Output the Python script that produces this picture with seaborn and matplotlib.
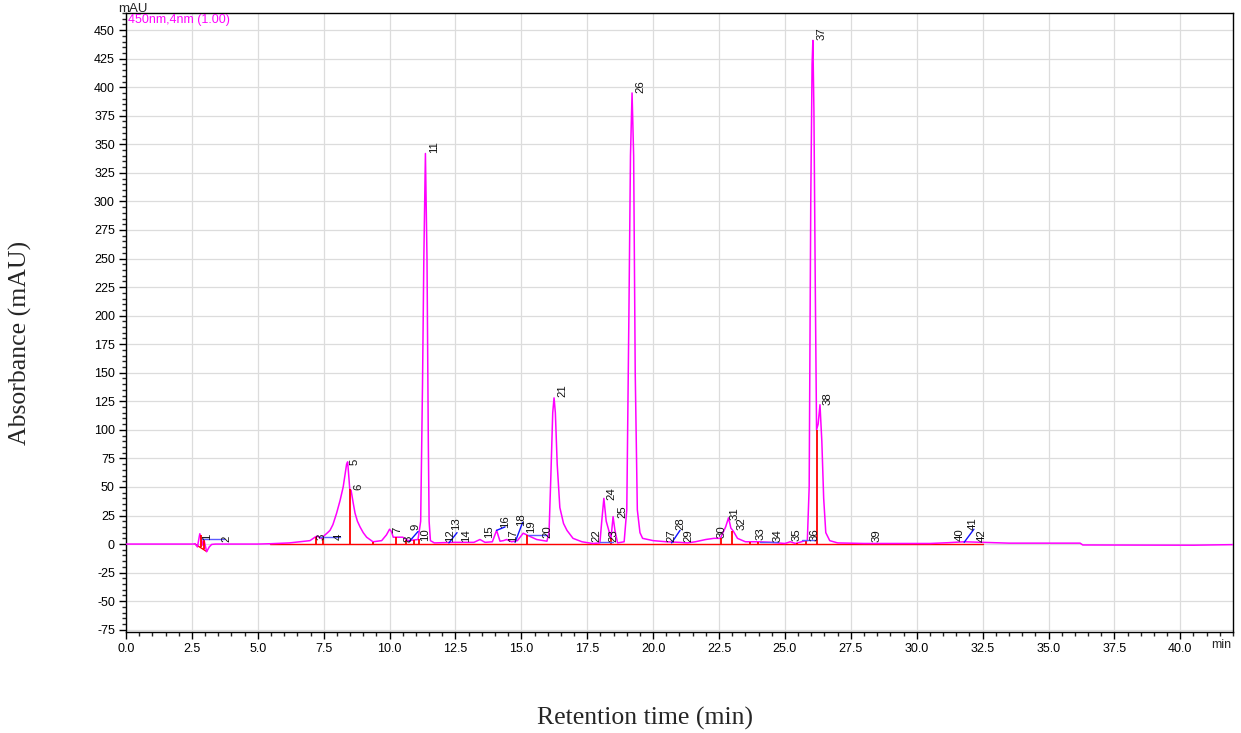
import numpy as np
import pandas as pd
import matplotlib
matplotlib.use("Agg")
import matplotlib.pyplot as plt
import seaborn as sns
from matplotlib.ticker import MultipleLocator

# ---- chromatogram trace (retention time in min, signal in mAU) ----
trace_t = [0.0, 2.55, 2.62, 2.71, 2.80, 2.86, 2.91, 2.96, 3.06, 3.16, 3.25, 3.4,
           5.0, 5.5, 6.2, 6.98, 7.17, 7.25, 7.35, 7.42, 7.55, 7.65, 7.74, 7.85,
           7.99, 8.12, 8.24, 8.32, 8.37, 8.41, 8.45, 8.49, 8.54, 8.62, 8.69, 8.78,
           8.88, 9.0, 9.13, 9.37, 9.7, 9.88, 10.0, 10.07, 10.14, 10.27, 10.5, 10.7,
           11.08, 11.18, 11.25, 11.3, 11.36, 11.42, 11.47, 11.5, 11.55, 11.7, 12.4,
           13.2, 13.43, 13.62, 13.9, 14.06, 14.19, 14.32, 14.44, 14.63, 14.85,
           15.07, 15.25, 15.58, 15.97, 16.05, 16.12, 16.19, 16.24, 16.29, 16.36,
           16.46, 16.6, 16.73, 16.96, 17.3, 17.7, 17.98, 18.05, 18.13, 18.22, 18.4,
           18.48, 18.55, 18.65, 18.9, 19.0, 19.08, 19.14, 19.2, 19.26, 19.32, 19.4,
           19.5, 19.6, 20.0, 20.5, 21.0, 21.3, 21.6, 22.0, 22.3, 22.55, 22.75,
           22.86, 22.95, 23.05, 23.2, 23.5, 24.0, 24.5, 25.0, 25.2, 25.4, 25.7,
           25.85, 25.92, 25.98, 26.03, 26.06, 26.1, 26.15, 26.2, 26.26, 26.33,
           26.4, 26.47, 26.55, 26.7, 27.0, 28.0, 30.5, 31.2, 31.8, 32.5, 33.5,
           36.2, 36.3, 38.0, 40.5, 42.0]
trace_mau = [0, 0, 0.3, -2.5, 9, 5, -1, 3.5, -6.7, -2.5, -0.3, 0,
             0, 0.3, 1, 3, 6, 7, 5.5, 5, 8, 10, 12, 17,
             27, 38, 50, 62, 70, 72, 60, 48, 47, 36, 27, 20,
             15, 10, 6, 2, 3, 8, 13, 11, 6, 6, 6, 3,
             4, 20, 140, 250, 342, 250, 90, 20, 3, 1, 1.5,
             1.5, 4, 1.5, 2, 12, 2.5, 3, 4, 2, 3,
             9.5, 7.5, 4, 2.5, 10, 60, 115, 128, 115, 70,
             32, 18, 12, 5, 2, 0.5, 1, 20, 40, 20, 5,
             24, 12, 1, 2, 30, 200, 340, 395, 340, 150, 30,
             10, 5, 3, 2, 1.5, 1, 2, 4, 5, 5, 15,
             23, 14, 11, 5, 2, 2, 1.5, 0.5, 2, 0.5, 2.5,
             3, 50, 300, 420, 441, 380, 230, 100, 105, 122,
             90, 40, 10, 3, 1, 0.5, 0.5, 1.2, 2, 1.5, 0.8,
             0.8, -0.8, -0.9, -1, -0.5]

# ---- peak numbers and label anchor positions ----
peak_no = [str(i) for i in range(1, 43)]
label_t = [3.07, 3.79, 7.40, 8.08, 8.69, 8.80, 10.28, 10.70, 11.00, 11.36,
           11.68, 12.29, 12.52, 12.90, 13.77, 14.38, 14.68, 14.98, 15.38, 15.97,
           16.54, 17.83, 18.51, 18.40, 18.82, 19.50, 20.71, 21.02, 21.32, 22.61,
           23.10, 23.37, 24.09, 24.70, 25.45, 26.14, 26.40, 26.63, 28.49, 31.64,
           32.13, 32.47]
label_mau = [3.5, 2, 3.5, 3.5, 69, 47, 10, 2, 12, 3,
             342, 2, 12, 2, 5, 14, 2, 16, 10, 5,
             129, 2, 2, 39, 23, 395, 2, 12, 2, 5,
             21, 12, 3.5, 2, 3, 3, 441, 122, 2, 3,
             12, 2]

# ---- integration marks ----
drop_t = [2.83, 2.96, 7.21, 7.49, 8.50, 9.36, 10.24, 10.62, 10.93, 11.10,
          15.20, 18.40, 22.57, 23.00, 23.67, 23.98, 25.44, 25.80, 26.20]
drop_top = [8, 3.5, 6.5, 5.5, 48, 2, 6, 3.5, 3.5, 4,
            8, 5, 5, 11, 1.5, 2, 1, 2.5, 100]
drop_bottom = [-3, -4, 0, 0, 0, 0, 0, 0, 0, 0,
               0, 0, 0, 0, 0, 0, 0, 0, 0]
red_base_t = [2.62, 3.06]
red_base_mau = [0, -6.5]
blue_x0 = [2.88, 7.36, 10.74, 12.25, 14.06, 14.76, 15.25, 17.98, 20.70, 24.05, 25.63, 31.80]
blue_y0 = [4, 6, 2, 1, 12, 1.5, 8, 2, 1, 2, 3.5, 1.5]
blue_x1 = [3.72, 8.12, 11.08, 12.56, 14.38, 15.05, 15.97, 18.48, 21.02, 24.73, 26.14, 32.17]
blue_y1 = [4, 6, 11, 10, 15, 19, 8, 2, 12, 2, 3.5, 13]

x_ticks = [i * 2.5 for i in range(17)]
y_ticks = list(range(-75, 451, 25))

df = pd.DataFrame({"t": trace_t, "mAU": trace_mau})

fig = plt.figure(figsize=(12.41, 7.33), dpi=100)
sns.set_style("white")
plt.rcParams["font.family"] = ["Liberation Sans", "DejaVu Sans"]
ax = fig.add_axes([126 / 1241, 1 - 632 / 733, (1233 - 126) / 1241, (632 - 13) / 733])

ax.grid(True, which="major", color="#dcdcdc", lw=0.9)
ax.set_axisbelow(True)

# red integration baseline
ax.plot([5.46, 32.5], [0, 0], color="#ff0000", lw=1.0, zorder=2)
ax.plot(red_base_t, red_base_mau, color="#ff0000", lw=1.0, zorder=2)

sns.lineplot(data=df, x="t", y="mAU", ax=ax, color="#ff00ff", lw=1.1,
             zorder=3, estimator=None, sort=False)

ax.vlines(drop_t, drop_bottom, drop_top, color="#ff0000", lw=1.3, zorder=4)
for x0, y0, x1, y1 in zip(blue_x0, blue_y0, blue_x1, blue_y1):
    col = "#5b5bff" if y0 == y1 else "#1010ff"
    ax.plot([x0, x1], [y0, y1], color=col, lw=1.0, zorder=4)

for lab, lt, ly in zip(peak_no, label_t, label_mau):
    ax.text(lt, ly, lab, rotation=90, ha="center", va="bottom", fontsize=8.2,
            color="#111111", zorder=5)

ax.set_xlim(0, 42)
ax.set_ylim(-77, 465)
ax.set_xticks(x_ticks)
ax.set_xticklabels([f"{v:.1f}" for v in x_ticks])
ax.set_yticks(y_ticks)
ax.set_yticklabels([str(v) for v in y_ticks])
ax.xaxis.set_minor_locator(MultipleLocator(0.5))
ax.yaxis.set_minor_locator(MultipleLocator(5))
ax.tick_params(which="major", direction="out", length=5, width=1, labelsize=9,
               colors="black", bottom=True, left=True, pad=3)
ax.tick_params(which="minor", direction="out", length=3, width=1, bottom=True, left=True)
for s in ax.spines.values():
    s.set_color("black")
    s.set_linewidth(1.0)
ax.set_xlabel("")
ax.set_ylabel("")

ax.text(0.002, 0.998, "450nm,4nm (1.00)", transform=ax.transAxes, ha="left",
        va="top", fontsize=9, color="#ff00ff")
fig.text(118 / 1241, 1 - 9 / 733, "mAU", ha="left", va="center", fontsize=9.5)
fig.text(1211 / 1241, 1 - 645 / 733, "min", ha="left", va="center", fontsize=9)

fig.text(645 / 1241, 1 - 718 / 733, "Retention time (min)", ha="center", va="center",
         fontsize=18.5, family=["Liberation Serif", "DejaVu Serif"])
fig.text(20 / 1241, 1 - 343 / 733, "Absorbance (mAU)", ha="center", va="center",
         rotation=90, fontsize=18.5, family=["Liberation Serif", "DejaVu Serif"])

fig.savefig("out.png", dpi=100)
